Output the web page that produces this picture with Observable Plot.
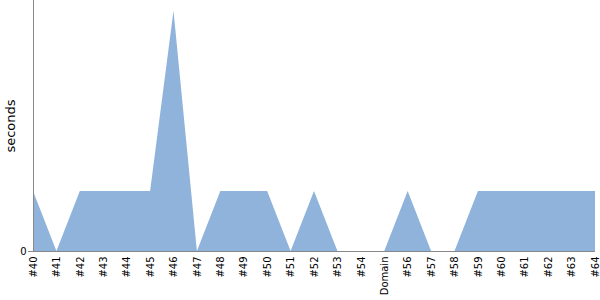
<!DOCTYPE html>
<html><head><meta charset="utf-8">
<script src="https://cdn.jsdelivr.net/npm/d3@7"></script>
<script src="https://cdn.jsdelivr.net/npm/@observablehq/plot@0.6"></script>
<style>body{margin:0;background:#fff;font-family:"DejaVu Sans",sans-serif;}</style>
</head><body><div id="chart"></div>
<script>
const categories = ["#40","#41","#42","#43","#44","#45","#46","#47","#48","#49","#50","#51","#52","#53","#54","Domain","#56","#57","#58","#59","#60","#61","#62","#63","#64"];
const seconds = [1,0,1,1,1,1,4,0,1,1,1,0,1,0,0,0,1,0,0,1,1,1,1,1,1];
const yTicks = [0];
const data = categories.map((c,i)=>({cat:c, v:seconds[i]}));
const chart = Plot.plot({
  width: 600, height: 300,
  marginLeft: 33, marginRight: 5, marginTop: 0, marginBottom: 49,
  style: {fontFamily: "DejaVu Sans", fontSize: "10px", color: "#000", background: "#fff"},
  x: {type: "point", domain: categories, padding: 0, round: false},
  y: {domain: [0, 4.18]},
  marks: [
    Plot.areaY(data, {x: "cat", y: "v", fill: "#90b3db", curve: "linear"}),
    Plot.axisX({tickRotate: -90, tickSize: 0, tickPadding: 5, label: null, fontSize: 10}),
    Plot.axisY({ticks: yTicks, tickFormat: d => String(d), tickSize: 5, tickPadding: 2, label: null, stroke: "#888", fontSize: 10}),
    Plot.ruleX([0], {x: () => categories[0], stroke: "#888"}),
    Plot.ruleY([0], {stroke: "#888"}),
    Plot.text(["seconds"], {frameAnchor: "left", dx: -23, rotate: -90, textAnchor: "middle", fontSize: 13, fill: "#000"})
  ]
});
document.getElementById("chart").appendChild(chart);
</script></body></html>
